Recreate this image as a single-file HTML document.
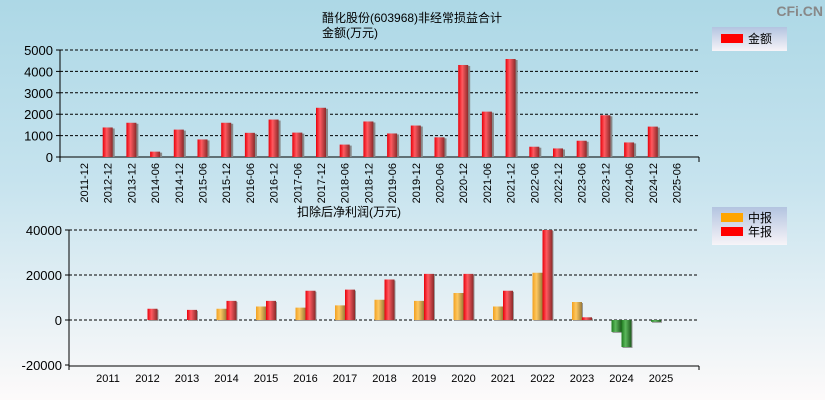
<!DOCTYPE html>
<html><head><meta charset="utf-8"><style>
body{margin:0;width:825px;height:400px;overflow:hidden;font-family:"Liberation Sans","Noto Sans CJK SC",sans-serif}
svg text{font-family:"Liberation Sans","Noto Sans CJK SC",sans-serif}
</style></head><body>
<svg id="c" width="825" height="400" xmlns="http://www.w3.org/2000/svg">
<defs>
<linearGradient id="bg" x1="0" y1="0" x2="0" y2="1"><stop offset="0" stop-color="#add8e6"/><stop offset="0.45" stop-color="#c6e3ee"/><stop offset="1" stop-color="#fdfafa"/></linearGradient>
<linearGradient id="lg" x1="0" y1="0" x2="0" y2="1"><stop offset="0" stop-color="#b3c4e0"/><stop offset="1" stop-color="#f7f4f8"/></linearGradient>
<linearGradient id="gr" x1="0" y1="0" x2="1" y2="0"><stop offset="0" stop-color="#e8000a"/><stop offset="0.4" stop-color="#ff5a60"/><stop offset="1" stop-color="#8a2a2a"/></linearGradient>
<linearGradient id="go" x1="0" y1="0" x2="1" y2="0"><stop offset="0" stop-color="#f0a020"/><stop offset="0.4" stop-color="#ffc860"/><stop offset="1" stop-color="#9a7a3a"/></linearGradient>
<linearGradient id="gg" x1="0" y1="0" x2="1" y2="0"><stop offset="0" stop-color="#1e7a1e"/><stop offset="0.4" stop-color="#5cb85c"/><stop offset="1" stop-color="#1e5a1e"/></linearGradient>
</defs>
<rect width="825" height="400" fill="url(#bg)"/>
<text x="823" y="16" text-anchor="end" font-size="14" font-weight="bold" fill="#888">CFi.CN</text>
<text x="322" y="22" font-size="12">醋化股份(603968)非经常损益合计</text>
<text x="322" y="37" font-size="12">金额(万元)</text>
<text x="297" y="216" font-size="12">扣除后净利润(万元)</text>
<g><rect x="712" y="27" width="75" height="24" fill="url(#lg)"/><rect x="721" y="34" width="22" height="9" fill="#f00"/><text x="748" y="43" font-size="12">金额</text></g>
<g><rect x="712" y="207" width="75" height="38" fill="url(#lg)"/><rect x="721" y="213" width="22" height="9" fill="#ffa500"/><text x="748" y="222" font-size="12">中报</text><rect x="721" y="227" width="22" height="9" fill="#f00"/><text x="748" y="236" font-size="12">年报</text></g>
<g id="top"></g><g id="bot"></g>
</svg>
<script>
const topCats=["2011-12","2012-12","2013-12","2014-06","2014-12","2015-06","2015-12","2016-06","2016-12","2017-06","2017-12","2018-06","2018-12","2019-06","2019-12","2020-06","2020-12","2021-06","2021-12","2022-06","2022-12","2023-06","2023-12","2024-06","2024-12","2025-06"];
const topVals=[0,1380,1600,250,1280,820,1600,1130,1750,1140,2300,580,1660,1100,1470,920,4300,2120,4580,480,400,760,1950,680,1420,0];
const topTicks=[0,1000,2000,3000,4000,5000];
const years=["2011","2012","2013","2014","2015","2016","2017","2018","2019","2020","2021","2022","2023","2024","2025"];
const midVals=[null,null,null,5000,6000,5500,6500,9000,8500,12000,6000,21000,8000,-5300,-800];
const annVals=[null,5000,4500,8500,8500,13000,13500,18000,20500,20500,13000,40000,1200,-12000,null];
const botTicks=[-20000,0,20000,40000];
const NS="http://www.w3.org/2000/svg";
function mk(p,t,a){const e=document.createElementNS(NS,t);for(const k in a)e.setAttribute(k,a[k]);p.appendChild(e);return e;}
const T=document.getElementById('top');
const ty=v=>157-v*(107/5000), tx=i=>84+i*23.7;
topTicks.forEach(v=>{const y=ty(v);
 if(v>0){const l=mk(T,'line',{x1:60,x2:699,y1:y,y2:y,stroke:'#000','stroke-dasharray':'3,2'});}
 mk(T,'line',{x1:56,x2:60,y1:y,y2:y,stroke:'#000'});
 const t=mk(T,'text',{x:53,y:y+5,'text-anchor':'end','font-size':13});t.textContent=v;});
mk(T,'line',{x1:60,x2:60,y1:50,y2:162,stroke:'#000'});
mk(T,'line',{x1:60,x2:699,y1:157,y2:157,stroke:'#000'});
mk(T,'line',{x1:699,x2:699,y1:157,y2:162,stroke:'#000'});
topCats.forEach((c,i)=>{const x=tx(i),v=topVals[i];
 if(v>0){mk(T,'rect',{x:x-4,y:ty(v)+1,width:11,height:157-ty(v)-1,fill:'#888'});
  const r=mk(T,'rect',{x:x-5,y:ty(v),width:10,height:157-ty(v),fill:'url(#gr)'});}
 const t=mk(T,'text',{x:0,y:0,'font-size':11,'text-anchor':'end',transform:`translate(${x+4},163) rotate(-90)`});t.textContent=c;});
const B=document.getElementById('bot');
const by=v=>320-v*(90/40000), bx=i=>108+i*39.5;
botTicks.forEach(v=>{const y=by(v);
 if(v!==-20000){const l=mk(B,'line',{x1:69,x2:699,y1:y,y2:y,stroke:'#000','stroke-dasharray':'3,2'});}
 mk(B,'line',{x1:65,x2:69,y1:y,y2:y,stroke:'#000'});
 const t=mk(B,'text',{x:62,y:y+5,'text-anchor':'end','font-size':13});t.textContent=v;});
mk(B,'line',{x1:69,x2:69,y1:230,y2:370,stroke:'#000'});
mk(B,'line',{x1:69,x2:699,y1:366,y2:366,stroke:'#000'});
mk(B,'line',{x1:699,x2:699,y1:366,y2:370,stroke:'#000'});
function bar(x,v,fill,name){if(v===null)return;const y0=by(Math.max(v,0)),h=Math.abs(by(v)-by(0));
 mk(B,'rect',{x:x+1,y:y0+1,width:10,height:h,fill:'#999'});
 const r=mk(B,'rect',{x:x,y:y0,width:10,height:h,fill:v<0?'url(#gg)':fill});}
years.forEach((yr,i)=>{const x=bx(i);
 bar(x-10,midVals[i],'url(#go)','mid-bar-'+yr);
 bar(x,annVals[i],'url(#gr)','annual-bar-'+yr);
 const t=mk(B,'text',{x:x,y:382,'text-anchor':'middle','font-size':11});t.textContent=yr;});
</script>
</body></html>
